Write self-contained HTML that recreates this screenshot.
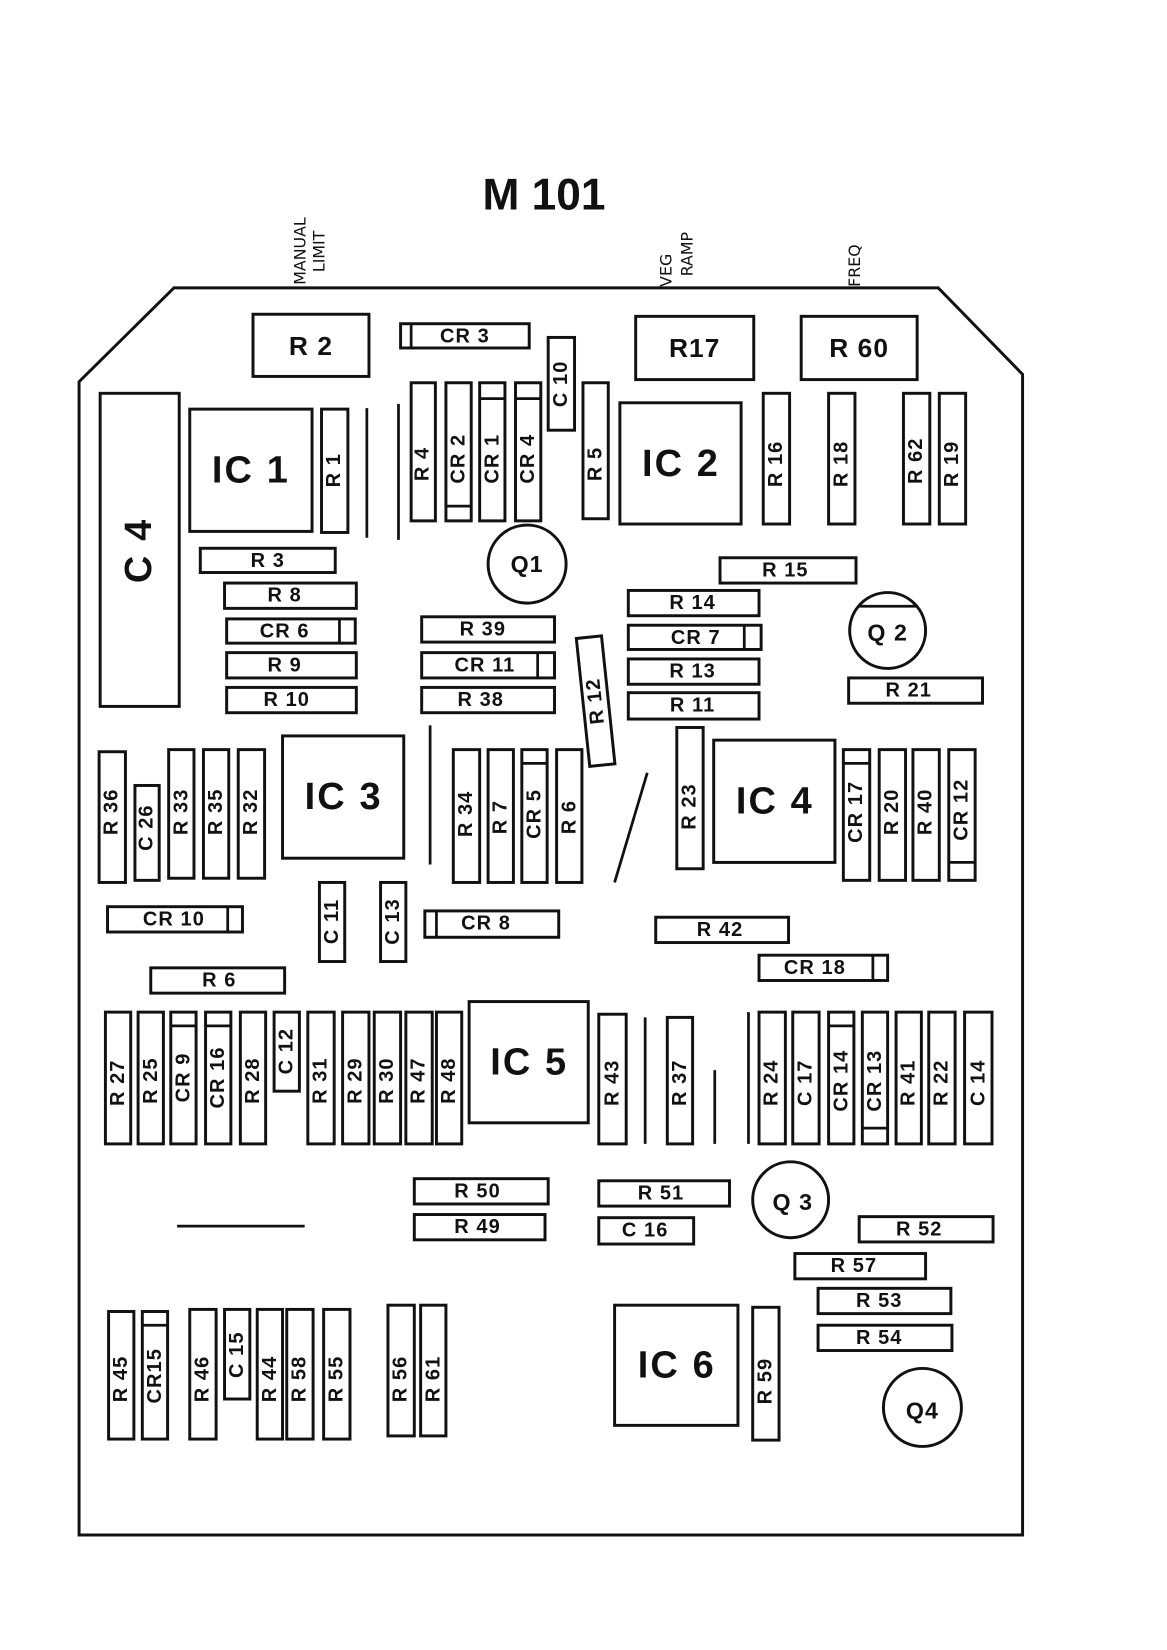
<!DOCTYPE html>
<html><head><meta charset="utf-8"><style>
html,body{margin:0;padding:0;background:#fff;}
svg{display:block}
text{font-family:"Liberation Sans",sans-serif;font-weight:bold;fill:#111;}
.b{fill:none;stroke:#111;stroke-width:2.8}
.l{font-size:19px;text-anchor:middle;dominant-baseline:central;letter-spacing:1px}
.big{font-size:25px}
.q{font-size:22px}
.ic{font-size:36px;text-anchor:middle;dominant-baseline:central;letter-spacing:2px}
.h{font-family:"DejaVu Sans",sans-serif;font-weight:normal;font-size:15px;}
</style></head><body>
<svg width="1167" height="1650" viewBox="0 0 1107 1565" xmlns="http://www.w3.org/2000/svg">
<text x="516" y="185" font-size="42" text-anchor="middle" dominant-baseline="central">M 101</text>
<text class="h" transform="translate(290,270) rotate(-90)">MANUAL</text>
<text class="h" transform="translate(308,258) rotate(-90)">LIMIT</text>
<text class="h" transform="translate(637,272) rotate(-90)">VEG</text>
<text class="h" transform="translate(657,262) rotate(-90)">RAMP</text>
<text class="h" transform="translate(816,272) rotate(-90)">FREQ</text>
<polygon class="b" stroke-width="3" points="165,273 890,273 970,355 970,1456 75,1456 75,362"/>
<rect class="b" x="95" y="373" width="75" height="297"/><text class="ic" transform="translate(132,522) rotate(-90)">C 4</text>
<rect class="b" x="180" y="388" width="116" height="116"/><text class="ic" x="238" y="446">IC 1</text>
<rect class="b" x="588" y="382" width="115" height="115"/><text class="ic" x="646" y="440">IC 2</text>
<rect class="b" x="268" y="698" width="115" height="116"/><text class="ic" x="326" y="756">IC 3</text>
<rect class="b" x="677" y="702" width="115" height="116"/><text class="ic" x="735" y="760">IC 4</text>
<rect class="b" x="445" y="950" width="113" height="115"/><text class="ic" x="502" y="1008">IC 5</text>
<rect class="b" x="583" y="1238" width="117" height="114"/><text class="ic" x="642" y="1295">IC 6</text>
<rect class="b" x="240" y="298" width="110" height="59"/><text class="l big" x="295" y="328">R 2</text>
<rect class="b" x="380" y="307" width="122" height="23"/><text class="l" x="441" y="319">CR 3</text>
<rect class="b" x="603" y="300" width="112" height="60"/><text class="l big" x="659" y="330">R17</text>
<rect class="b" x="760" y="300" width="110" height="60"/><text class="l big" x="815" y="330">R 60</text>
<rect class="b" x="190" y="520" width="128" height="23"/><text class="l" x="254" y="532">R 3</text>
<rect class="b" x="213" y="553" width="125" height="24"/><text class="l" x="270" y="565">R 8</text>
<rect class="b" x="215" y="587" width="122" height="23"/><text class="l" x="270" y="599">CR 6</text>
<rect class="b" x="215" y="619" width="123" height="24"/><text class="l" x="270" y="631">R 9</text>
<rect class="b" x="215" y="652" width="123" height="24"/><text class="l" x="272" y="664">R 10</text>
<rect class="b" x="400" y="585" width="126" height="24"/><text class="l" x="458" y="597">R 39</text>
<rect class="b" x="400" y="619" width="126" height="24"/><text class="l" x="460" y="631">CR 11</text>
<rect class="b" x="400" y="652" width="126" height="24"/><text class="l" x="456" y="664">R 38</text>
<rect class="b" x="683" y="529" width="129" height="24"/><text class="l" x="745" y="541">R 15</text>
<rect class="b" x="596" y="560" width="124" height="24"/><text class="l" x="657" y="572">R 14</text>
<rect class="b" x="596" y="593" width="126" height="23"/><text class="l" x="660" y="605">CR 7</text>
<rect class="b" x="596" y="625" width="124" height="24"/><text class="l" x="657" y="637">R 13</text>
<rect class="b" x="596" y="657" width="124" height="25"/><text class="l" x="657" y="669">R 11</text>
<rect class="b" x="805" y="643" width="127" height="24"/><text class="l" x="862" y="655">R 21</text>
<rect class="b" x="102" y="860" width="128" height="24"/><text class="l" x="165" y="872">CR 10</text>
<rect class="b" x="403" y="864" width="127" height="25"/><text class="l" x="461" y="876">CR 8</text>
<rect class="b" x="622" y="870" width="126" height="24"/><text class="l" x="683" y="882">R 42</text>
<rect class="b" x="720" y="906" width="122" height="24"/><text class="l" x="773" y="918">CR 18</text>
<rect class="b" x="143" y="918" width="127" height="24"/><text class="l" x="208" y="930">R 6</text>
<rect class="b" x="393" y="1118" width="127" height="24"/><text class="l" x="453" y="1130">R 50</text>
<rect class="b" x="393" y="1152" width="124" height="24"/><text class="l" x="453" y="1164">R 49</text>
<rect class="b" x="568" y="1120" width="124" height="24"/><text class="l" x="627" y="1132">R 51</text>
<rect class="b" x="568" y="1155" width="90" height="25"/><text class="l" x="612" y="1167">C 16</text>
<rect class="b" x="815" y="1154" width="127" height="24"/><text class="l" x="872" y="1166">R 52</text>
<rect class="b" x="754" y="1189" width="124" height="24"/><text class="l" x="810" y="1201">R 57</text>
<rect class="b" x="776" y="1222" width="126" height="24"/><text class="l" x="834" y="1234">R 53</text>
<rect class="b" x="776" y="1257" width="127" height="24"/><text class="l" x="834" y="1269">R 54</text>
<g stroke="#111" stroke-width="2.6">
<line x1="390" y1="307" x2="390" y2="330"/><line x1="322" y1="587" x2="322" y2="610"/>
<line x1="510" y1="619" x2="510" y2="643"/><line x1="706" y1="593" x2="706" y2="616"/>
<line x1="216" y1="860" x2="216" y2="884"/><line x1="414" y1="864" x2="414" y2="889"/>
<line x1="828" y1="906" x2="828" y2="930"/>
<line x1="423" y1="480" x2="447" y2="480"/><line x1="455" y1="378" x2="479" y2="378"/>
<line x1="489" y1="378" x2="513" y2="378"/><line x1="495" y1="724" x2="519" y2="724"/>
<line x1="800" y1="724" x2="825" y2="724"/><line x1="900" y1="818" x2="925" y2="818"/>
<line x1="162" y1="973" x2="186" y2="973"/><line x1="195" y1="973" x2="219" y2="973"/>
<line x1="786" y1="973" x2="810" y2="973"/><line x1="818" y1="1070" x2="842" y2="1070"/>
<line x1="135" y1="1257" x2="159" y2="1257"/>
</g>
<g>
<rect class="b" x="305" y="388" width="25" height="117"/><text class="l" transform="translate(317,446) rotate(-90)">R 1</text>
<rect class="b" x="390" y="363" width="23" height="131"/><text class="l" transform="translate(401,440) rotate(-90)">R 4</text>
<rect class="b" x="423" y="363" width="24" height="131"/><text class="l" transform="translate(435,435) rotate(-90)">CR 2</text>
<rect class="b" x="455" y="363" width="24" height="131"/><text class="l" transform="translate(467,435) rotate(-90)">CR 1</text>
<rect class="b" x="489" y="363" width="24" height="131"/><text class="l" transform="translate(501,435) rotate(-90)">CR 4</text>
<rect class="b" x="520" y="320" width="25" height="88"/><text class="l" transform="translate(532,364) rotate(-90)">C 10</text>
<rect class="b" x="553" y="363" width="24" height="129"/><text class="l" transform="translate(565,440) rotate(-90)">R 5</text>
<rect class="b" x="724" y="373" width="25" height="124"/><text class="l" transform="translate(736,440) rotate(-90)">R 16</text>
<rect class="b" x="786" y="373" width="25" height="124"/><text class="l" transform="translate(798,440) rotate(-90)">R 18</text>
<rect class="b" x="857" y="373" width="25" height="124"/><text class="l" transform="translate(869,437) rotate(-90)">R 62</text>
<rect class="b" x="891" y="373" width="25" height="124"/><text class="l" transform="translate(903,440) rotate(-90)">R 19</text>
<g transform="rotate(-6 565 665)"><rect class="b" x="553" y="604" width="24" height="122"/><text class="l" transform="translate(565,665) rotate(-90)">R 12</text></g>
<rect class="b" x="94" y="713" width="25" height="124"/><text class="l" transform="translate(106,770) rotate(-90)">R 36</text>
<rect class="b" x="128" y="745" width="23" height="90"/><text class="l" transform="translate(139,785) rotate(-90)">C 26</text>
<rect class="b" x="160" y="711" width="24" height="122"/><text class="l" transform="translate(172,770) rotate(-90)">R 33</text>
<rect class="b" x="193" y="711" width="24" height="122"/><text class="l" transform="translate(205,770) rotate(-90)">R 35</text>
<rect class="b" x="226" y="711" width="25" height="122"/><text class="l" transform="translate(238,770) rotate(-90)">R 32</text>
<rect class="b" x="430" y="711" width="25" height="126"/><text class="l" transform="translate(442,772) rotate(-90)">R 34</text>
<rect class="b" x="463" y="711" width="24" height="126"/><text class="l" transform="translate(475,775) rotate(-90)">R 7</text>
<rect class="b" x="495" y="711" width="24" height="126"/><text class="l" transform="translate(507,772) rotate(-90)">CR 5</text>
<rect class="b" x="528" y="711" width="24" height="126"/><text class="l" transform="translate(540,775) rotate(-90)">R 6</text>
<rect class="b" x="642" y="690" width="25" height="134"/><text class="l" transform="translate(654,765) rotate(-90)">R 23</text>
<rect class="b" x="800" y="711" width="25" height="124"/><text class="l" transform="translate(812,770) rotate(-90)">CR 17</text>
<rect class="b" x="834" y="711" width="25" height="124"/><text class="l" transform="translate(846,770) rotate(-90)">R 20</text>
<rect class="b" x="866" y="711" width="25" height="124"/><text class="l" transform="translate(878,770) rotate(-90)">R 40</text>
<rect class="b" x="900" y="711" width="25" height="124"/><text class="l" transform="translate(912,768) rotate(-90)">CR 12</text>
<rect class="b" x="303" y="837" width="24" height="75"/><text class="l" transform="translate(315,874) rotate(-90)">C 11</text>
<rect class="b" x="361" y="837" width="24" height="75"/><text class="l" transform="translate(373,874) rotate(-90)">C 13</text>
<rect class="b" x="100" y="960" width="24" height="125"/><text class="l" transform="translate(112,1027) rotate(-90)">R 27</text>
<rect class="b" x="131" y="960" width="24" height="125"/><text class="l" transform="translate(143,1025) rotate(-90)">R 25</text>
<rect class="b" x="162" y="960" width="24" height="125"/><text class="l" transform="translate(174,1022) rotate(-90)">CR 9</text>
<rect class="b" x="195" y="960" width="24" height="125"/><text class="l" transform="translate(207,1022) rotate(-90)">CR 16</text>
<rect class="b" x="228" y="960" width="24" height="125"/><text class="l" transform="translate(240,1025) rotate(-90)">R 28</text>
<rect class="b" x="260" y="960" width="24" height="75"/><text class="l" transform="translate(272,997) rotate(-90)">C 12</text>
<rect class="b" x="292" y="960" width="25" height="125"/><text class="l" transform="translate(304,1025) rotate(-90)">R 31</text>
<rect class="b" x="325" y="960" width="25" height="125"/><text class="l" transform="translate(337,1025) rotate(-90)">R 29</text>
<rect class="b" x="355" y="960" width="25" height="125"/><text class="l" transform="translate(367,1025) rotate(-90)">R 30</text>
<rect class="b" x="385" y="960" width="25" height="125"/><text class="l" transform="translate(397,1025) rotate(-90)">R 47</text>
<rect class="b" x="414" y="960" width="24" height="125"/><text class="l" transform="translate(426,1025) rotate(-90)">R 48</text>
<rect class="b" x="568" y="962" width="26" height="123"/><text class="l" transform="translate(581,1027) rotate(-90)">R 43</text>
<rect class="b" x="633" y="965" width="24" height="120"/><text class="l" transform="translate(645,1027) rotate(-90)">R 37</text>
<rect class="b" x="720" y="960" width="25" height="125"/><text class="l" transform="translate(732,1027) rotate(-90)">R 24</text>
<rect class="b" x="752" y="960" width="25" height="125"/><text class="l" transform="translate(764,1027) rotate(-90)">C 17</text>
<rect class="b" x="786" y="960" width="24" height="125"/><text class="l" transform="translate(798,1025) rotate(-90)">CR 14</text>
<rect class="b" x="818" y="960" width="24" height="125"/><text class="l" transform="translate(830,1025) rotate(-90)">CR 13</text>
<rect class="b" x="850" y="960" width="24" height="125"/><text class="l" transform="translate(862,1027) rotate(-90)">R 41</text>
<rect class="b" x="881" y="960" width="25" height="125"/><text class="l" transform="translate(893,1027) rotate(-90)">R 22</text>
<rect class="b" x="915" y="960" width="26" height="125"/><text class="l" transform="translate(928,1027) rotate(-90)">C 14</text>
<rect class="b" x="103" y="1244" width="24" height="121"/><text class="l" transform="translate(115,1308) rotate(-90)">R 45</text>
<rect class="b" x="135" y="1244" width="24" height="121"/><text class="l" transform="translate(147,1305) rotate(-90)">CR15</text>
<rect class="b" x="180" y="1242" width="25" height="123"/><text class="l" transform="translate(192,1308) rotate(-90)">R 46</text>
<rect class="b" x="213" y="1242" width="24" height="85"/><text class="l" transform="translate(225,1285) rotate(-90)">C 15</text>
<rect class="b" x="244" y="1242" width="24" height="123"/><text class="l" transform="translate(256,1308) rotate(-90)">R 44</text>
<rect class="b" x="272" y="1242" width="25" height="123"/><text class="l" transform="translate(284,1308) rotate(-90)">R 58</text>
<rect class="b" x="307" y="1242" width="25" height="123"/><text class="l" transform="translate(319,1308) rotate(-90)">R 55</text>
<rect class="b" x="368" y="1238" width="25" height="124"/><text class="l" transform="translate(380,1308) rotate(-90)">R 56</text>
<rect class="b" x="399" y="1238" width="24" height="124"/><text class="l" transform="translate(411,1308) rotate(-90)">R 61</text>
<rect class="b" x="714" y="1240" width="25" height="126"/><text class="l" transform="translate(726,1310) rotate(-90)">R 59</text>
</g>
<circle class="b" cx="500" cy="535" r="37"/><text class="l q" x="500" y="535">Q1</text>
<circle class="b" cx="842" cy="598" r="36"/><text class="l q" x="842" y="600">Q 2</text>
<line x1="815" y1="575" x2="870" y2="575" stroke="#111" stroke-width="2.6"/>
<circle class="b" cx="750" cy="1138" r="36"/><text class="l q" x="752" y="1140">Q 3</text>
<circle class="b" cx="875" cy="1335" r="37"/><text class="l q" x="875" y="1338">Q4</text>
<g stroke="#111" stroke-width="2.6">
<line x1="348" y1="387" x2="348" y2="510"/><line x1="378" y1="383" x2="378" y2="512"/>
<line x1="408" y1="688" x2="408" y2="820"/><line x1="614" y1="733" x2="583" y2="837"/>
<line x1="612" y1="965" x2="612" y2="1085"/><line x1="678" y1="1015" x2="678" y2="1085"/>
<line x1="710" y1="960" x2="710" y2="1085"/><line x1="168" y1="1163" x2="289" y2="1163"/>
</g>
</svg>
</body></html>
